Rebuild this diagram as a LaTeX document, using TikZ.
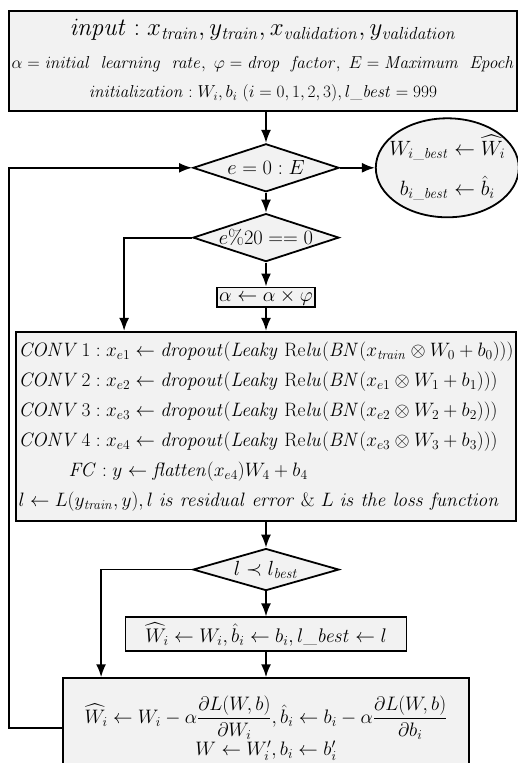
\RequirePackage{fix-cm}
\documentclass[tikz,border=0pt]{standalone}
\usepackage{amsmath,amssymb}
\usetikzlibrary{arrows.meta,shapes.geometric,positioning}
\definecolor{boxgray}{RGB}{242,242,242}

\begin{document}
\begin{tikzpicture}[x=1pt,y=1pt,line width=1.8pt,
                    >={Latex[length=13pt,width=10pt]},
                    block/.style={rectangle, draw, fill=boxgray, inner sep=2pt,
                                  font=\fontsize{20}{24}\selectfont},
                    decision/.style={diamond, draw, fill=boxgray, aspect=3, inner sep=-2pt,
                                     minimum width=146pt, minimum height=48pt,
                                     font=\fontsize{20.5}{24}\selectfont},
                    endnode/.style={ellipse, draw, fill=boxgray, inner xsep=-12pt, inner ysep=0pt,
                                    minimum width=143pt, minimum height=99pt, align=flush center,
                                    font=\fontsize{20.7}{40}\selectfont}]
  \useasboundingbox (0,0) rectangle (518,-763);
  % initial settings
  \node[block, minimum width=508pt, minimum height=100pt, align=flush center,
        font=\fontsize{17.3}{29}\selectfont] (top) at (263,-61)
    {{\fontsize{25}{28}\selectfont$\mathit{input}: x_{\mathit{train}}, y_{\mathit{train}}, x_{\mathit{validation}}, y_{\mathit{validation}}$}\\[4pt]
     $\alpha = \mathit{initial\ \ learning\ \ rate}, \ \varphi = \mathit{drop\ \ factor}, \ E = \mathit{Maximum\ \ Epoch}$\\
     $\mathit{initialization}: W_i, b_i\ (i=0,1,2,3), l\_\mathit{best} = 999$};
  % epoch loop
  \node[decision, below=31pt of top, xshift=3pt] (d1) {$e = 0 : E$};
  \node[endnode, right=35pt of d1] (best)
    {$W_{i\_\mathit{best}} \leftarrow \widehat{W}_i$\\ $b_{i\_\mathit{best}} \leftarrow \hat{b}_i$};
  \node[decision, below=20pt of d1] (d2) {$e\%20 == 0$};
  \node[block, below=24pt of d2] (decay) {$\alpha \leftarrow \alpha \times \varphi$};
  % network
  \node[block, below=23pt of decay, minimum width=500pt, minimum height=189pt,
        align=flush left, font=\fontsize{19.4}{30}\selectfont] (net)
    {$\mathit{CONV}\,1: x_{e1} \leftarrow \mathit{dropout}(\mathit{Leaky}\ \mathrm{Re}\mathit{lu}(\mathit{BN}(x_{\mathit{train}} \otimes W_0 + b_0)))$\\
     $\mathit{CONV}\,2: x_{e2} \leftarrow \mathit{dropout}(\mathit{Leaky}\ \mathrm{Re}\mathit{lu}(\mathit{BN}(x_{e1} \otimes W_1 + b_1)))$\\
     $\mathit{CONV}\,3: x_{e3} \leftarrow \mathit{dropout}(\mathit{Leaky}\ \mathrm{Re}\mathit{lu}(\mathit{BN}(x_{e2} \otimes W_2 + b_2)))$\\
     $\mathit{CONV}\,4: x_{e4} \leftarrow \mathit{dropout}(\mathit{Leaky}\ \mathrm{Re}\mathit{lu}(\mathit{BN}(x_{e3} \otimes W_3 + b_3)))$\\
     \hspace*{50pt}$\mathit{FC}: y \leftarrow \mathit{flatten}(x_{e4}) W_4 + b_4$\\
     $l \leftarrow L(y_{\mathit{train}}, y), l\ \mathit{is\ residual\ error}\ \&\ L\ \mathit{is\ the\ loss\ function}$};
  \node[decision, below=26pt of net, minimum height=42pt] (d3) {$l \prec l_{\mathit{best}}$};
  \node[block, below=25pt of d3, minimum width=281pt, minimum height=34pt, inner ysep=0pt,
        font=\fontsize{19.7}{24}\selectfont] (save)
    {$\widehat{W}_i \leftarrow W_i, \hat{b}_i \leftarrow b_i, l\_\mathit{best} \leftarrow l$};
  \node[block, below=25pt of save, minimum width=406pt, minimum height=100pt, inner ysep=1pt,
        align=flush center, font=\fontsize{19.5}{22}\selectfont] (upd)
    {$\widehat{W}_i \leftarrow W_i - \alpha\dfrac{\partial L(W,b)}{\partial W_i}, \hat{b}_i \leftarrow b_i - \alpha\dfrac{\partial L(W,b)}{\partial b_i}$\\
     $W \leftarrow W_i', b_i \leftarrow b_i'$};
  % connectors
  \draw[->] (top.south -| d1.north) -- (d1.north);
  \draw[->] (d1) -- (best);
  \draw[->] (d1) -- (d2);
  \draw[->] (d2) -- (decay);
  \draw[->] (decay) -- (net);
  \draw[->] (d2.west) -| ([xshift=109pt]net.north west);
  \draw[->] (net) -- (d3);
  \draw[->] (d3) -- (save);
  \draw[->] (save) -- (upd);
  \draw[->] (d3.west) -| ([xshift=39pt]upd.north west);
  \draw[->] (upd.west) -- ++(-53pt,0) |- (d1.west);
\end{tikzpicture}
\end{document}
